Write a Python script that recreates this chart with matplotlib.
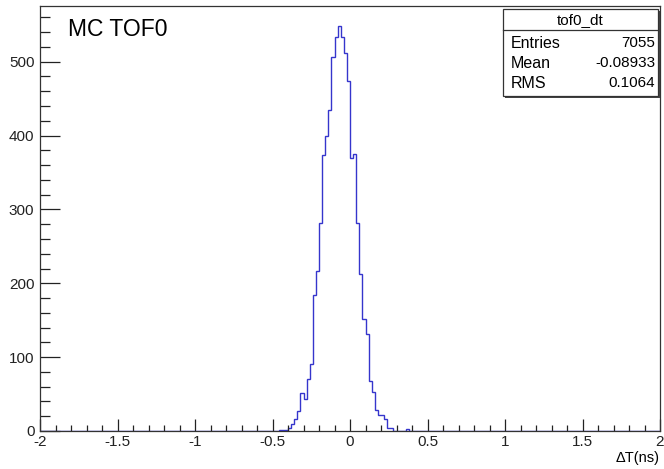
import numpy as np
import matplotlib
matplotlib.use('Agg')
import matplotlib.pyplot as plt
from matplotlib.patches import Rectangle
from matplotlib.ticker import MultipleLocator

plt.rcParams['font.family'] = ['Liberation Sans', 'DejaVu Sans']

# histogram tof0_dt : 200 bins from -2 to 2 ns
n_bins = 200
x_min, x_max = -2.0, 2.0
first_edge = -0.46   # lower edge of first filled bin
counts = [1, 1, 2, 4, 9, 16, 27, 52, 43, 70, 91, 184, 217, 282, 373, 400, 434,
          506, 534, 548, 534, 512, 474, 369, 375, 282, 212, 152, 131, 68, 53,
          28, 21, 21, 16, 4, 4, 0, 0, 0, 0, 3]

stat_names = ['Entries', 'Mean', 'RMS']
stat_values = ['7055', '-0.08933', '0.1064']
hist_name = 'tof0_dt'
title = 'MC TOF0'
x_title = '\u0394T(ns)'

W, H = 664, 469


def fx(x):
    return x / W


def fy(y):
    return 1 - y / H


edges = np.linspace(x_min, x_max, n_bins + 1)
full = np.zeros(n_bins)
i0 = int(round((first_edge - x_min) / ((x_max - x_min) / n_bins)))
full[i0:i0 + len(counts)] = counts

fig = plt.figure(figsize=(W / 100, H / 100), dpi=100)
ax = fig.add_axes([fx(40), fy(431), fx(660) - fx(40), fy(6) - fy(431)])
ax.stairs(full, edges, color='#3535cc', lw=1.0)
ax.set_xlim(x_min, x_max)
ax.set_ylim(0, 1.05 * max(counts))

ax.xaxis.set_major_locator(MultipleLocator(0.5))
ax.xaxis.set_minor_locator(MultipleLocator(0.1))
ax.yaxis.set_major_locator(MultipleLocator(100))
ax.yaxis.set_minor_locator(MultipleLocator(20))
ax.tick_params(axis='x', which='major', direction='in', length=8.5, width=0.9,
               labelsize=11, pad=3, colors='#222222')
ax.tick_params(axis='x', which='minor', direction='in', length=4.3, width=0.9,
               colors='#222222')
ax.tick_params(axis='y', which='major', direction='in', length=14.4, width=0.9,
               labelsize=11, pad=4, colors='#222222')
ax.tick_params(axis='y', which='minor', direction='in', length=7.2, width=0.9,
               colors='#222222')
ax.set_xticks(np.arange(-2, 2.01, 0.5))
ax.set_xticklabels(['-2', '-1.5', '-1', '-0.5', '0', '0.5', '1', '1.5', '2'])
for s in ax.spines.values():
    s.set_color('#333333')
    s.set_linewidth(0.9)

fig.text(fx(68), fy(36), title, fontsize=16.5, ha='left', va='baseline')
fig.text(fx(660), fy(458), x_title, fontsize=10.5, ha='right', va='center')

# stats box
bx0, bx1, by0, by1 = 503, 658, 9, 96
fig.add_artist(Rectangle((fx(bx0 + 2), fy(by1 + 2)), fx(bx1 - bx0), fy(by0) - fy(by1),
                         transform=fig.transFigure, facecolor='#444444',
                         edgecolor='none'))
fig.add_artist(Rectangle((fx(bx0), fy(by1)), fx(bx1 - bx0), fy(by0) - fy(by1),
                         transform=fig.transFigure, facecolor='white',
                         edgecolor='#333333', lw=0.9))
fig.add_artist(plt.Line2D([fx(bx0), fx(bx1)], [fy(30), fy(30)],
                          transform=fig.transFigure, color='#333333', lw=0.9))
fig.text(fx((bx0 + bx1) / 2), fy(20), hist_name, fontsize=11, ha='center', va='center')
for k, (nm, val) in enumerate(zip(stat_names, stat_values)):
    yy = fy(43 + 20 * k)
    fig.text(fx(511), yy, nm, fontsize=11.5, ha='left', va='center')
    fig.text(fx(655), yy, val, fontsize=11, ha='right', va='center')

fig.savefig('out.png', dpi=100)
